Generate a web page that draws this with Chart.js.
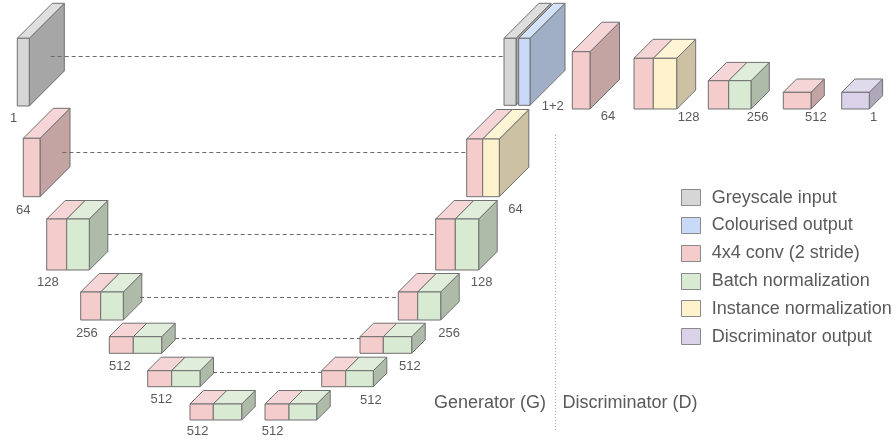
<!DOCTYPE html>
<html>
<head>
<meta charset="utf-8">
<script src="https://cdn.jsdelivr.net/npm/chart.js@4"></script>
<style>
html,body{margin:0;padding:0;background:#fff;}
#wrap{width:896px;height:447px;}
</style>
</head>
<body>
<div id="wrap"><canvas id="c" width="896" height="447"></canvas></div>
<script>
// ---- values ----
const channelLabels = ["1","64","128","256","512","512","512",
                       "512","512","512","256","128","64","1+2",
                       "64","128","256","512","1"];
const blockTypes = [["grey"],["conv"],["conv","bn"],["conv","bn"],["conv","bn"],["conv","bn"],["conv","bn"],
                    ["conv","bn"],["conv","bn"],["conv","bn"],["conv","bn"],["conv","bn"],["conv","in"],["grey","blue"],
                    ["conv"],["conv","in"],["conv","bn"],["conv"],["disc"]];
const legendKeys = ["grey","blue","conv","bn","in","disc"];
const legendLabels = ["Greyscale input","Colourised output","4x4 conv (2 stride)","Batch normalization","Instance normalization","Discriminator output"];
const sectionTitles = ["Generator (G)","Discriminator (D)"];

// ---- layout (diagram units) ----
const boxLeft  = [17.3,23.3,46.7,80.7,109.3,147.7,190, 265,321.7,360,398.3,435.7,466.7,504, 572.3,634,708.3,783.3,841.7];
const boxTop   = [38.3,138.3,219,292,336.7,370.7,404, 404,370.7,336.7,292,219,139,38.3, 51.7,58.3,80.7,92.3,92.3];
const boxWidth = [12,16.7,42.6,42.6,52.4,52.3,51.7, 51.7,51.6,51.7,42.4,43,32.6,26, 17.7,42.7,42.7,27.7,27.6];
const boxHeight= [67.7,58.4,51,28,16.6,16,16, 16,16,16.6,28,51,57.7,67, 57.3,50.7,28.3,16.7,16.7];
const boxDepth = [35,30,18.5,18.5,13.5,13.5,13.5, 13.5,13.5,13.5,18.5,18.5,29.5,35, 29.5,19,18.3,13.3,13.3];
const boxFirst = [12,16.7,20,20,24,24,23.3, 24,24,23.3,19.4,19.6,16,12, 17.7,19.3,20.4,27.7,27.6];
const labelX   = [10,16,37,76,109,150.5,186.7, 261.7,360,399,438.3,470.7,508.3,541.7, 600.7,677.7,746.7,805,870];
const labelY   = [118,210,282.7,333.3,366.7,399.3,431.7, 431.7,400,366.7,333.3,282.7,209.3,106.7, 116,117.7,117.7,117.7,117.7];
const skipY    = [56,151.7,234.3,296.7,338.3,371.7];
const skipFrom = [50.7,62.3,107.7,140,175,213];
const skipTo   = [504,466.7,435.7,398.3,360,321.7];

const palette = {
  grey:{front:"#d6d6d6",top:"#dedede",side:"#a6a6a6"},
  blue:{front:"#c9daf8",top:"#d3e1f9",side:"#a0aec6"},
  conv:{front:"#f4cccc",top:"#f5d5d5",side:"#c4a3a3"},
  bn:  {front:"#d9ead3",top:"#e0eddb",side:"#aebba9"},
  in:  {front:"#fff2cc",top:"#fff4d4",side:"#ccc2a3"},
  disc:{front:"#d9d2e9",top:"#e0daed",side:"#aea8ba"}
};
const edge = "#707070";
const textCol = "#5a5a5a";

const diagramPlugin = {
  id:"diagram",
  afterDraw(chart){
    const ctx = chart.ctx, xs = chart.scales.x, ys = chart.scales.y;
    const X = v=>xs.getPixelForValue(v), Y = v=>ys.getPixelForValue(v);
    const poly = (pts, fill)=>{
      ctx.beginPath();
      ctx.moveTo(pts[0][0],pts[0][1]);
      for(let i=1;i<pts.length;i++) ctx.lineTo(pts[i][0],pts[i][1]);
      ctx.closePath();
      ctx.fillStyle=fill; ctx.fill();
      ctx.strokeStyle=edge; ctx.lineWidth=1; ctx.stroke();
    };
    ctx.save();
    ctx.lineJoin="round";
    // boxes
    for(let i=0;i<boxLeft.length;i++){
      const types = blockTypes[i];
      const l=boxLeft[i], t=boxTop[i], w=boxWidth[i], h=boxHeight[i], d=boxDepth[i];
      if(types[0]==="grey" && types[1]==="blue"){
        // two separate thin slabs
        const w1=boxFirst[i], gap=2.7, w2=w-w1-gap;
        const segs=[[l,w1,palette.grey],[l+w1+gap,w2,palette.blue]];
        segs.forEach(([sl,sw,c])=>{
          poly([[X(sl+sw),Y(t)],[X(sl+sw+d),Y(t-d)],[X(sl+sw+d),Y(t+h-d)],[X(sl+sw),Y(t+h)]],c.side);
          poly([[X(sl),Y(t)],[X(sl+sw),Y(t)],[X(sl+sw+d),Y(t-d)],[X(sl+d),Y(t-d)]],c.top);
          poly([[X(sl),Y(t)],[X(sl+sw),Y(t)],[X(sl+sw),Y(t+h)],[X(sl),Y(t+h)]],c.front);
        });
        continue;
      }
      const bounds = types.length===1 ? [l,l+w] : [l,l+boxFirst[i],l+w];
      const last = palette[types[types.length-1]];
      // side
      poly([[X(l+w),Y(t)],[X(l+w+d),Y(t-d)],[X(l+w+d),Y(t+h-d)],[X(l+w),Y(t+h)]], last.side);
      for(let k=0;k<types.length;k++){
        const c = palette[types[k]], a=bounds[k], b=bounds[k+1];
        poly([[X(a),Y(t)],[X(b),Y(t)],[X(b+d),Y(t-d)],[X(a+d),Y(t-d)]], c.top);
        poly([[X(a),Y(t)],[X(b),Y(t)],[X(b),Y(t+h)],[X(a),Y(t+h)]], c.front);
      }
    }
    // skip connections
    ctx.strokeStyle="#6a6a6a"; ctx.lineWidth=1; ctx.setLineDash([4,3]);
    for(let i=0;i<skipY.length;i++){
      const y=Math.round(Y(skipY[i]))+0.5;
      ctx.beginPath(); ctx.moveTo(X(skipFrom[i]),y); ctx.lineTo(X(skipTo[i]),y); ctx.stroke();
    }
    // separator
    ctx.strokeStyle="#a8a8a8"; ctx.setLineDash([1,2]);
    const sx=Math.round(X(555))+0.5;
    ctx.beginPath(); ctx.moveTo(sx,Y(135)); ctx.lineTo(sx,Y(432)); ctx.stroke();
    ctx.setLineDash([]);
    // labels
    ctx.fillStyle=textCol; ctx.textBaseline="middle"; ctx.textAlign="left";
    ctx.font="13px 'Liberation Sans', Arial, sans-serif";
    for(let i=0;i<channelLabels.length;i++) ctx.fillText(channelLabels[i],X(labelX[i]),Y(labelY[i]));
    ctx.font="18px 'Liberation Sans', Arial, sans-serif";
    ctx.textAlign="right"; ctx.fillText(sectionTitles[0],X(546),Y(403.5));
    ctx.textAlign="left";  ctx.fillText(sectionTitles[1],X(562.5),Y(403.5));
    // legend
    for(let i=0;i<legendKeys.length;i++){
      const cy = 197.7 + i*27.8;
      const c = palette[legendKeys[i]];
      ctx.fillStyle=c.front; ctx.strokeStyle="#8a8a8a"; ctx.lineWidth=1;
      const rx=Math.round(X(681))+0.5, ry=Math.round(Y(cy-8.5))+0.5;
      ctx.fillRect(rx,ry,19,16); ctx.strokeRect(rx,ry,19,16);
      ctx.fillStyle=textCol; ctx.fillText(legendLabels[i],X(711.7),Y(cy));
    }
    ctx.restore();
  }
};

new Chart(document.getElementById("c"),{
  type:"scatter",
  data:{datasets:[{data:[],pointRadius:0}]},
  options:{
    responsive:false, animation:false,
    layout:{padding:0},
    plugins:{legend:{display:false},tooltip:{enabled:false}},
    scales:{
      x:{type:"linear",min:0,max:896,display:false},
      y:{type:"linear",min:0,max:447,reverse:true,display:false}
    }
  },
  plugins:[diagramPlugin]
});
</script>
</body>
</html>
